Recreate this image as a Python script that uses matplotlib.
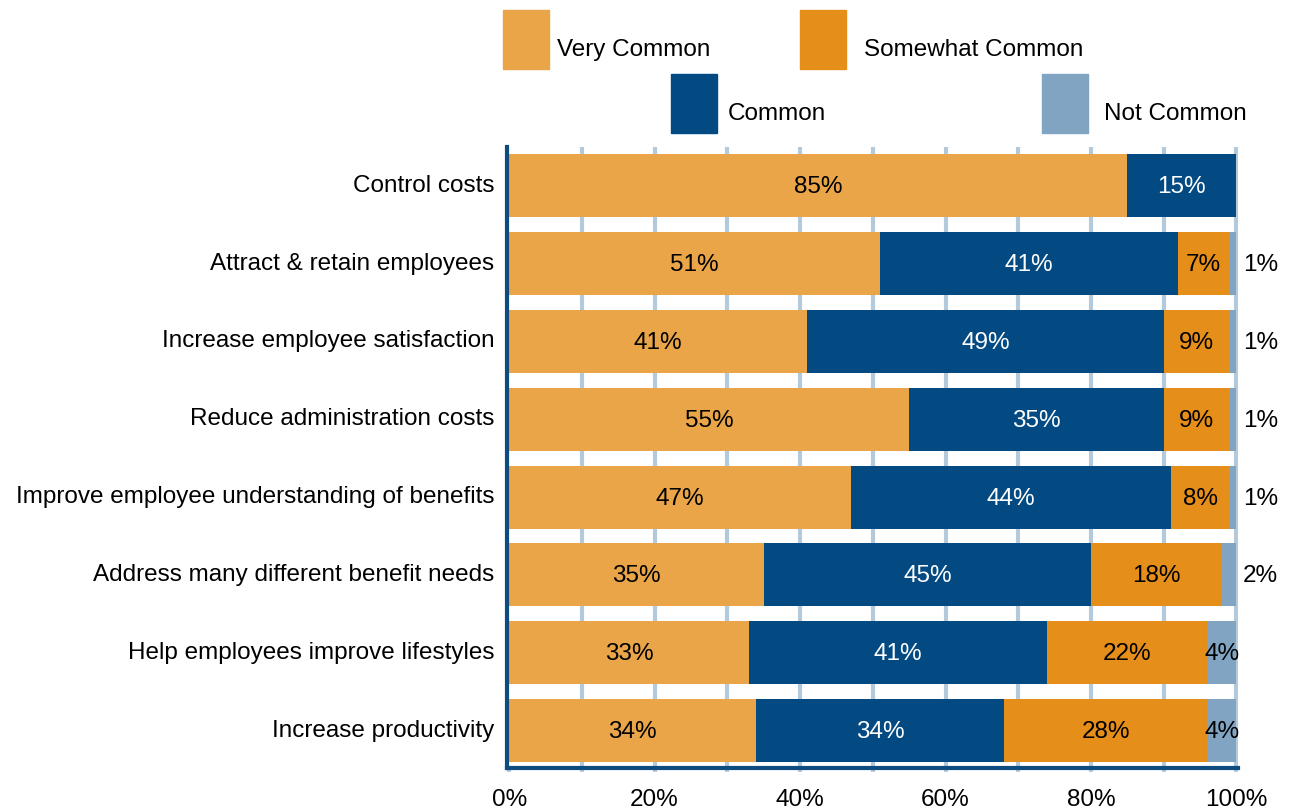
import matplotlib.pyplot as plt
from matplotlib.patches import Rectangle
import numpy as np

plt.rcParams["font.family"] = ["Liberation Sans", "DejaVu Sans"]

categories = [
    "Control costs",
    "Attract & retain employees",
    "Increase employee satisfaction",
    "Reduce administration costs",
    "Improve employee understanding of benefits",
    "Address many different benefit needs",
    "Help employees improve lifestyles",
    "Increase productivity",
]
very_common = [85, 51, 41, 55, 47, 35, 33, 34]
common = [15, 41, 49, 35, 44, 45, 41, 34]
somewhat_common = [0, 7, 9, 9, 8, 18, 22, 28]
not_common = [0, 1, 1, 1, 1, 2, 4, 4]

series = [
    ("Very Common", very_common, "#E9A548", "black"),
    ("Common", common, "#034A82", "white"),
    ("Somewhat Common", somewhat_common, "#E58E1A", "black"),
    ("Not Common", not_common, "#81A4C2", "black"),
]

FS = 17.5

fig = plt.figure(figsize=(12.91, 8.10), dpi=100)
ax = fig.add_axes([0.3927, 0.052, 0.5662, 0.7667])

y = np.arange(len(categories))
left = np.zeros(len(categories))
for name, vals, color, tcolor in series:
    vals = np.array(vals, dtype=float)
    ax.barh(y, vals, left=left, height=0.81, color=color, zorder=3, label=name)
    for yi, (l, v) in enumerate(zip(left, vals)):
        if v <= 0:
            continue
        if name == "Not Common" and v < 3:
            ax.text(103.3, yi + 0.02, f"{int(v)}%", ha="center", va="center",
                    fontsize=FS, color="black", zorder=4)
        else:
            ax.text(l + v / 2, yi + 0.02, f"{int(v)}%", ha="center", va="center",
                    fontsize=FS, color=tcolor, zorder=4)
    left += vals

ax.set_xlim(-0.3, 100.2)
ax.set_ylim(7.48, -0.5)

# light vertical grid every 10%
ax.set_xticks(np.arange(0, 101, 20))
ax.set_xticklabels([f"{v}%" for v in range(0, 101, 20)], fontsize=FS)
ax.set_xticks(np.arange(10, 100, 20), minor=True)
for gx in range(10, 101, 10):
    ax.axvline(gx, color="#B3C9DC", lw=3, zorder=1)
ax.tick_params(axis="x", which="both", direction="out", length=3, width=3,
               color="#B3C9DC", pad=12)
ax.set_yticks(y)
ax.set_yticklabels(categories, fontsize=FS, va="center")
ax.tick_params(axis="y", length=0, pad=9)

for s in ["top", "right"]:
    ax.spines[s].set_visible(False)
for s in ["left", "bottom"]:
    ax.spines[s].set_color("#0E4C80")
    ax.spines[s].set_linewidth(3)
    ax.spines[s].set_zorder(5)

# staggered legend boxes above the chart
legend_items = [
    ("Very Common", "#E9A548", 503, 10, 557),
    ("Somewhat Common", "#E58E1A", 800, 10, 864),
    ("Common", "#034A82", 671, 74, 728),
    ("Not Common", "#81A4C2", 1042, 74, 1104),
]
W, H = 1291, 810
for name, color, px, py, tx in legend_items:
    fig.add_artist(Rectangle((px / W, 1 - (py + 59) / H), 46 / W, 59 / H,
                             transform=fig.transFigure, color=color))
    fig.text(tx / W, 1 - (py + 40) / H, name, fontsize=FS,
             ha="left", va="center")

fig.savefig("out.png", dpi=100)
